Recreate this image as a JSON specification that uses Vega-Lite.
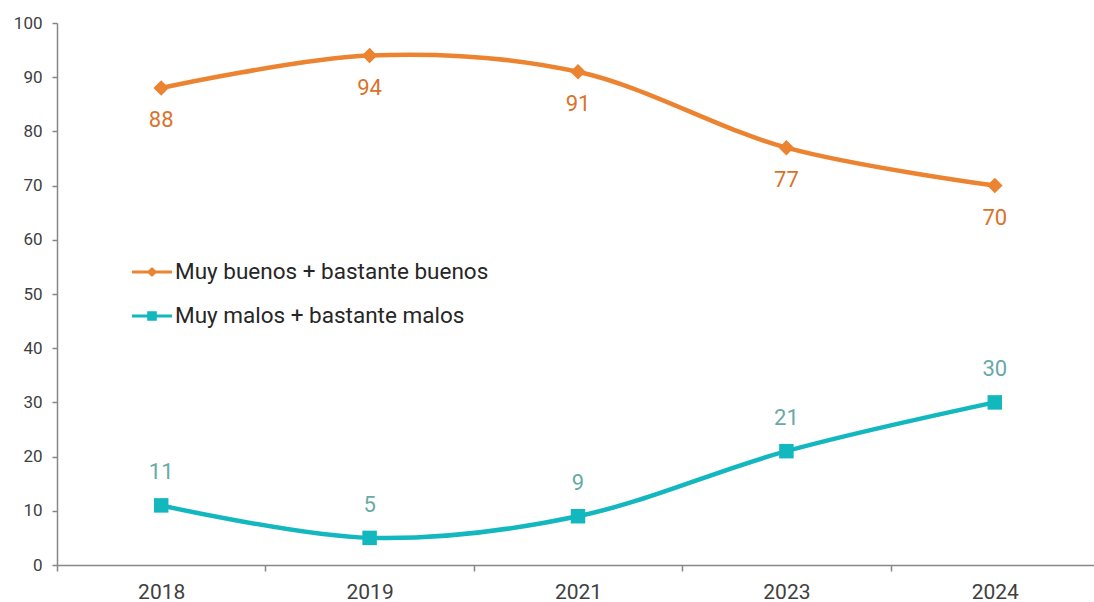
{
  "$schema": "https://vega.github.io/schema/vega-lite/v6.json",
  "width": 1042,
  "height": 542,
  "autosize": {"type": "none"},
  "padding": {"left": 57, "top": 23, "right": 0, "bottom": 37},
  "background": "white",
  "config": {
    "view": {"stroke": null},
    "font": "Roboto",
    "axis": {"domainColor": "#878787", "tickColor": "#878787", "domainWidth": 1.5, "tickWidth": 1.5, "labelColor": "#404040", "grid": false, "title": null}
  },
  "data": {
    "values": [
      {"year": "2018", "serie": "Muy buenos + bastante buenos", "value": 88},
      {"year": "2019", "serie": "Muy buenos + bastante buenos", "value": 94},
      {"year": "2021", "serie": "Muy buenos + bastante buenos", "value": 91},
      {"year": "2023", "serie": "Muy buenos + bastante buenos", "value": 77},
      {"year": "2024", "serie": "Muy buenos + bastante buenos", "value": 70},
      {"year": "2018", "serie": "Muy malos + bastante malos", "value": 11},
      {"year": "2019", "serie": "Muy malos + bastante malos", "value": 5},
      {"year": "2021", "serie": "Muy malos + bastante malos", "value": 9},
      {"year": "2023", "serie": "Muy malos + bastante malos", "value": 21},
      {"year": "2024", "serie": "Muy malos + bastante malos", "value": 30}
    ]
  },
  "encoding": {
    "x": {"field": "year", "type": "ordinal", "scale": {"type": "band", "paddingInner": 0, "paddingOuter": 0},
      "axis": {"labelAngle": 0, "tickBand": "extent", "tickSize": 6, "labelPadding": 10, "labelFontSize": 21}},
    "y": {"field": "value", "type": "quantitative", "scale": {"domain": [0, 100], "nice": false},
      "axis": {"values": [0,10,20,30,40,50,60,70,80,90,100], "tickSize": 5, "labelPadding": 10, "labelFontSize": 17}}
  },
  "layer": [
    {
      "mark": {"type": "line", "interpolate": "cardinal", "strokeWidth": 4.5},
      "encoding": {
        "color": {"field": "serie", "type": "nominal",
          "scale": {"domain": ["Muy buenos + bastante buenos", "Muy malos + bastante malos"], "range": ["#EC8331", "#13B7BE"]},
          "legend": {
            "orient": "none", "legendX": 75, "legendY": 229, "title": null, "padding": 0,
            "symbolSize": 1600, "rowPadding": 12, "labelOffset": 3, "labelFontSize": 22.5, "labelColor": "#262626", "labelLimit": 600,
            "encode": {"symbols": {"update": {
              "shape": {"signal": "datum.value === 'Muy buenos + bastante buenos' ? 'M-1,-0.07L-0.18,-0.07L0,-0.25L0.18,-0.07L1,-0.07L1,0.07L0.18,0.07L0,0.25L-0.18,0.07L-1,0.07Z' : 'M-1,-0.07L-0.24,-0.07L-0.24,-0.24L0.24,-0.24L0.24,-0.07L1,-0.07L1,0.07L0.24,0.07L0.24,0.24L-0.24,0.24L-0.24,0.07L-1,0.07Z'"},
              "fill": {"scale": "color", "field": "value"},
              "stroke": {"value": "transparent"},
              "strokeWidth": {"value": 0},
              "opacity": {"value": 1}
            }}}
          }}
      }
    },
    {
      "transform": [{"filter": "datum.serie === 'Muy buenos + bastante buenos'"}],
      "mark": {"type": "point", "filled": true, "opacity": 1, "shape": "diamond", "size": 240, "color": "#EC8331"}
    },
    {
      "transform": [{"filter": "datum.serie === 'Muy malos + bastante malos'"}],
      "mark": {"type": "point", "filled": true, "opacity": 1, "shape": "square", "size": 210, "color": "#13B7BE"}
    },
    {
      "transform": [{"filter": "datum.serie === 'Muy buenos + bastante buenos'"}],
      "mark": {"type": "text", "dy": 32, "fontSize": 22, "color": "#D9732C"},
      "encoding": {"text": {"field": "value", "type": "quantitative"}}
    },
    {
      "transform": [{"filter": "datum.serie === 'Muy malos + bastante malos'"}],
      "mark": {"type": "text", "dy": -33, "fontSize": 22, "color": "#68AAA6"},
      "encoding": {"text": {"field": "value", "type": "quantitative"}}
    }
  ]
}
